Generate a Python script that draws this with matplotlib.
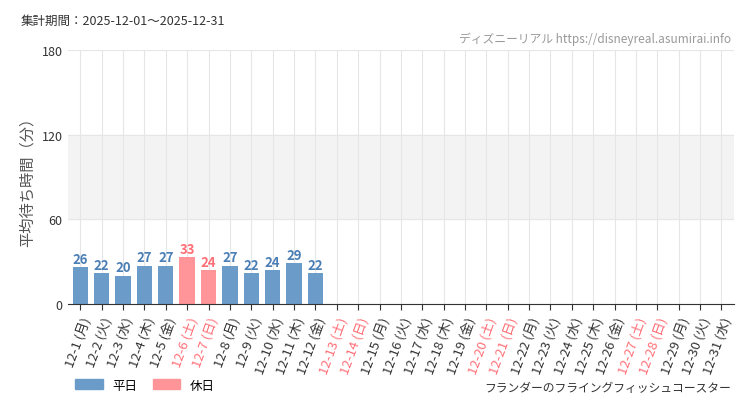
import matplotlib
matplotlib.use("Agg")
import matplotlib.pyplot as plt
from matplotlib.patches import Patch

plt.rcParams['font.family'] = ['Noto Sans CJK JP', 'DejaVu Sans']

days = list(range(1, 32))
weekdays = ['月','火','水','木','金','土','日']
values = [26,22,20,27,27,33,24,27,22,24,29,22] + [None]*19
holidays = [6,7,13,14,20,21,27,28]
labels = [f"12-{d} ({weekdays[(d-1)%7]})" for d in days]

blue = '#6b9bc8'; red = '#ff9499'
blue_t = '#4a7eb5'; red_t = '#ff6f77'

fig = plt.figure(figsize=(7.5, 4.1), dpi=100)
ax = fig.add_axes([0.09, 0.256, 0.889, 0.62])
ax.axhspan(60, 120, color='#f3f3f3', zorder=0)
for i, (d, v) in enumerate(zip(days, values)):
    if v is None:
        continue
    c = red if d in holidays else blue
    ax.bar(i, v, width=0.72, color=c, zorder=2)
    ax.text(i, v + 1, str(v), ha='center', va='bottom', fontsize=9.5,
            color=red_t if d in holidays else blue_t, fontweight='bold')
ax.set_xlim(-0.6, 30.6)
ax.set_ylim(0, 180)
ax.set_yticks([0, 60, 120, 180])
ax.set_xticks(range(31))
ax.set_xticklabels(labels, rotation=70, ha='right', rotation_mode='anchor', fontsize=9.5)
for t, d in zip(ax.get_xticklabels(), days):
    t.set_color(red_t if d in holidays else '#333333')
ax.tick_params(axis='y', labelsize=9, colors='#333333', length=0)
ax.tick_params(axis='x', length=4, color='#333333')
ax.grid(True, color='#e6e6e6', linewidth=0.8, zorder=1)
ax.set_axisbelow(True)
for s in ['top', 'right', 'left']:
    ax.spines[s].set_visible(False)
ax.spines['bottom'].set_color('#333333')
ax.set_ylabel('平均待ち時間（分）', fontsize=11, color='#555555')

fig.text(0.027, 0.94, '集計期間：2025-12-01～2025-12-31', fontsize=9, color='#333333')
fig.text(0.975, 0.895, 'ディズニーリアル https://disneyreal.asumirai.info', fontsize=8.5,
         color='#999999', ha='right')
fig.text(0.975, 0.045, 'フランダーのフライングフィッシュコースター', fontsize=8.5,
         color='#333333', ha='right')
fig.legend(handles=[Patch(color=blue, label='平日'), Patch(color=red, label='休日')],
           loc='lower left', bbox_to_anchor=(0.085, 0.015), ncol=2, frameon=False,
           fontsize=9, handlelength=2.2, handleheight=0.9, columnspacing=1.2)
fig.savefig('out.png')
